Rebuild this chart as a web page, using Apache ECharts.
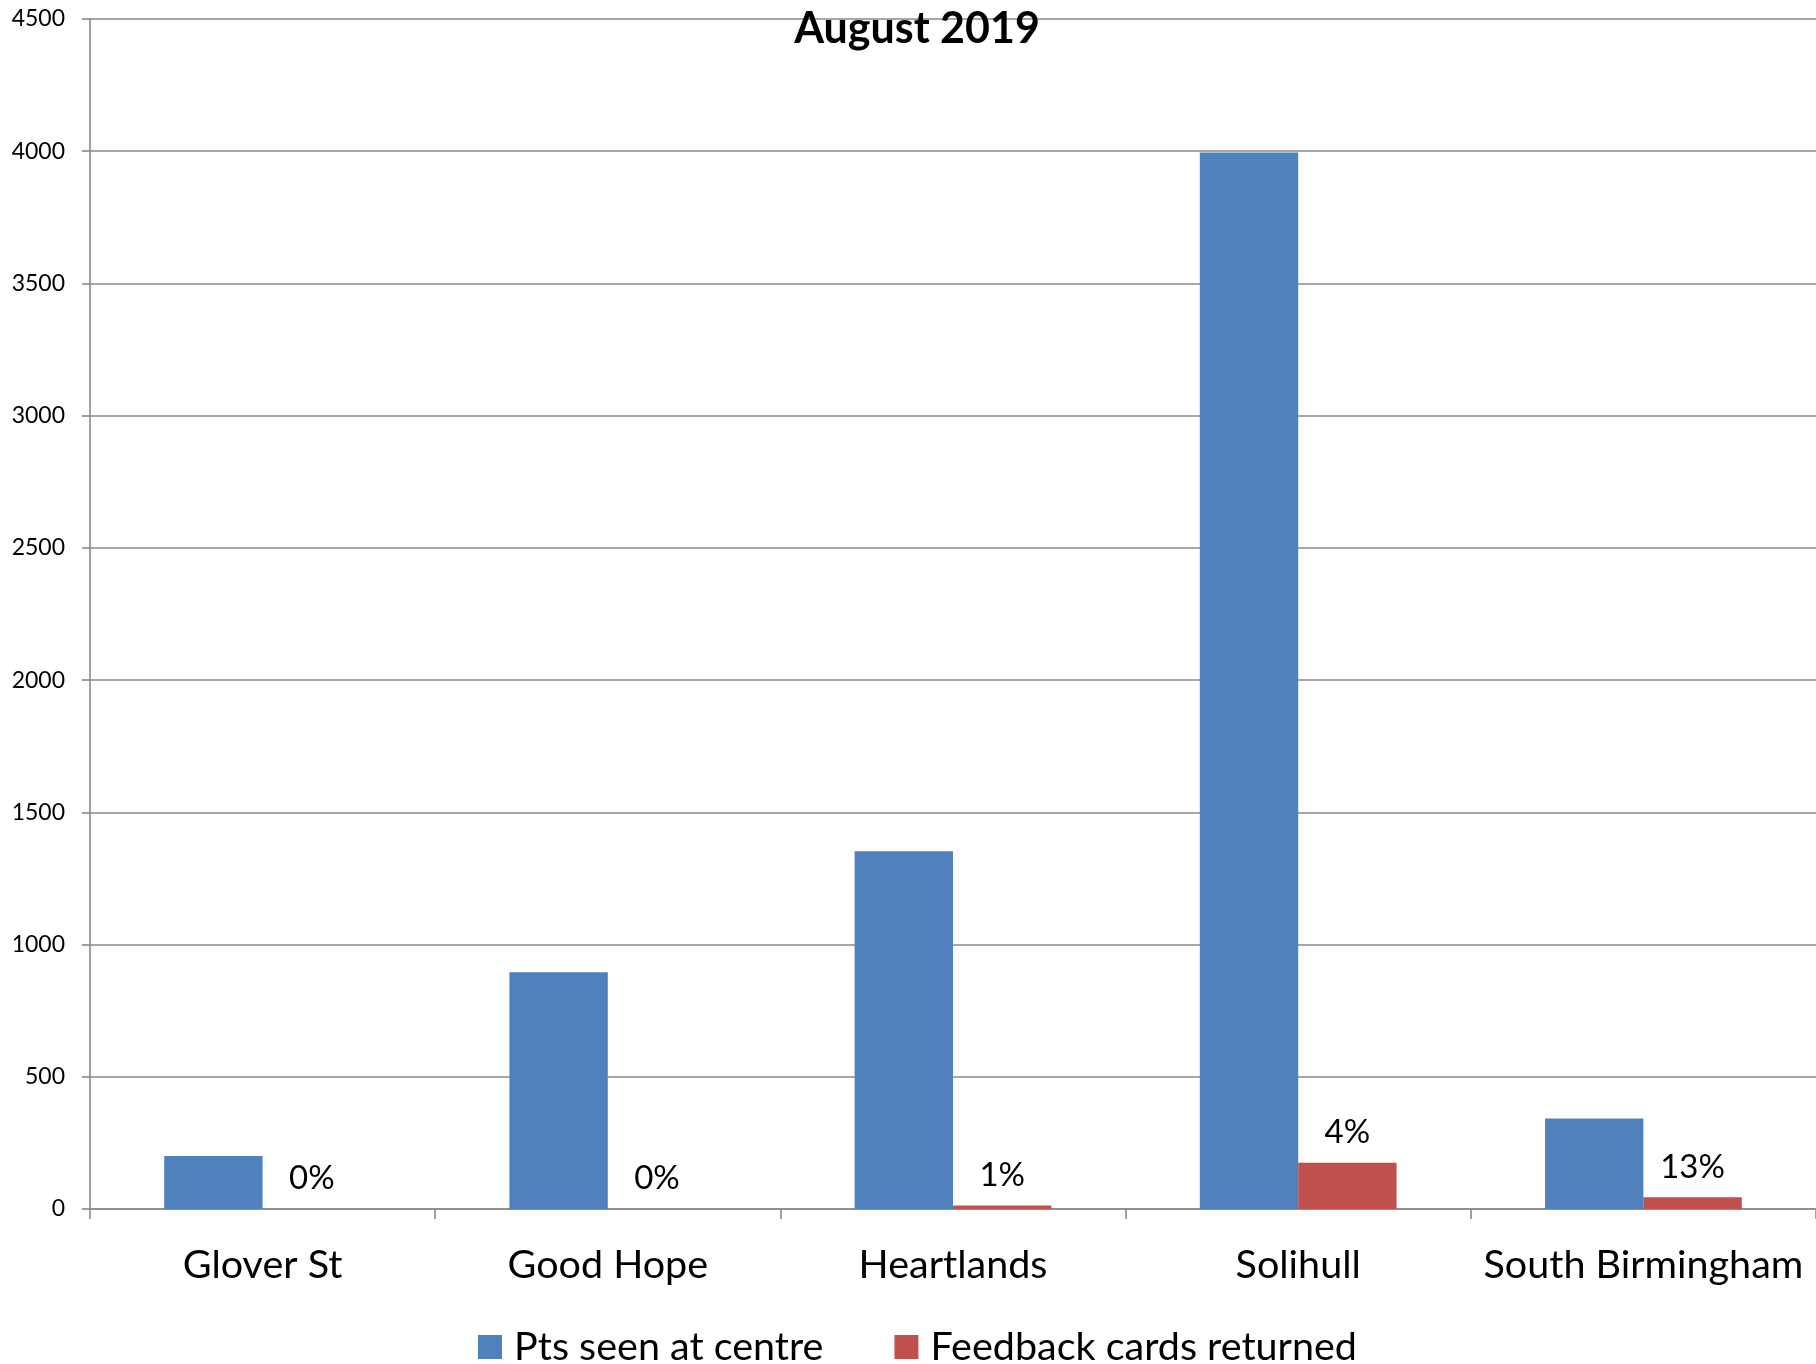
<!DOCTYPE html>
<html>
<head>
<meta charset="utf-8">
<script src="https://cdn.jsdelivr.net/npm/echarts@6/dist/echarts.min.js"></script>
<style>
html,body{margin:0;padding:0;background:#fff;}
#chart{width:1816px;height:1364px;}
</style>
</head>
<body>
<div id="chart"></div>
<script>
const categories = ['Glover St', 'Good Hope', 'Heartlands', 'Solihull', 'South Birmingham'];
const ptsSeen = [200, 895, 1353, 3995, 342];
const feedbackCards = [0, 0, 13, 175, 44];
const pctLabels = ['0%', '0%', '1%', '4%', '13%'];
const yTicks = [0, 500, 1000, 1500, 2000, 2500, 3000, 3500, 4000, 4500];

const FONT = 'Lato, "Open Sans", sans-serif';
const GRID = '#8a8a8a';

const chart = echarts.init(document.getElementById('chart'), null, {renderer: 'canvas'});
chart.setOption({
  animation: false,
  backgroundColor: '#ffffff',
  title: {
    text: 'August 2019',
    left: 912,
    textAlign: 'center',
    top: 3,
    textStyle: {fontFamily: FONT, fontSize: 43, fontWeight: 'bold', color: '#000'}
  },
  legend: {
    data: ['Pts seen at centre', 'Feedback cards returned'],
    left: 478,
    top: 1327,
    padding: 0,
    itemWidth: 24,
    itemHeight: 24,
    itemGap: 71,
    icon: 'rect',
    textStyle: {fontFamily: FONT, fontSize: 39.5, color: '#000', padding: [0, 0, 0, 7]}
  },
  grid: {left: 90, right: 0, top: 19, bottom: 155, containLabel: false},
  xAxis: {
    type: 'category',
    data: categories,
    axisLine: {lineStyle: {color: GRID, width: 1.6}},
    axisTick: {show: true, length: 10, lineStyle: {color: GRID, width: 1.6}},
    axisLabel: {fontFamily: FONT, fontSize: 39.5, color: '#000', margin: 36, interval: 0}
  },
  yAxis: {
    type: 'value',
    min: yTicks[0],
    max: yTicks[yTicks.length - 1],
    interval: 500,
    axisLine: {show: true, lineStyle: {color: GRID, width: 1.6}},
    axisTick: {show: true, length: 8, lineStyle: {color: GRID, width: 1.6}},
    axisLabel: {fontFamily: FONT, fontSize: 23, color: '#000', margin: 25, formatter: v => String(v)},
    splitLine: {lineStyle: {color: GRID, width: 1.6}}
  },
  series: [
    {
      name: 'Pts seen at centre',
      type: 'bar',
      data: ptsSeen,
      itemStyle: {color: '#4F81BD'},
      barGap: '0%',
      barCategoryGap: '43%'
    },
    {
      name: 'Feedback cards returned',
      type: 'bar',
      data: feedbackCards,
      itemStyle: {color: '#C0504D'},
      barGap: '0%',
      barCategoryGap: '43%',
      label: {
        show: true,
        position: 'top',
        distance: 14,
        fontFamily: FONT,
        fontSize: 33,
        color: '#000',
        formatter: p => pctLabels[p.dataIndex]
      }
    }
  ]
});
</script>
</body>
</html>
